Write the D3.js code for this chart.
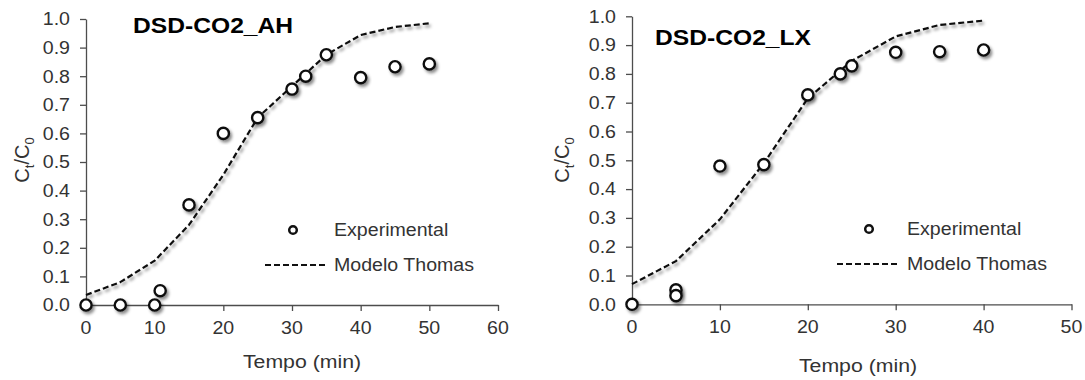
<!DOCTYPE html>
<html>
<head>
<meta charset="utf-8">
<script src="https://cdn.jsdelivr.net/npm/d3@7"></script>
<style>
  html, body { margin: 0; padding: 0; background: #fff; }
  svg { display: block; }
  text { font-family: "Liberation Sans", Arial, sans-serif; }
</style>
</head>
<body>
<svg id="chart" width="1085" height="380"></svg>
<script>
// Breakthrough curves: experimental points and Thomas model fit
const timeAH = [0, 5, 10, 10.8, 15, 20, 25, 30, 32, 35, 40, 45, 50];
const ctAH   = [0, 0, 0, 0.05, 0.35, 0.60, 0.655, 0.755, 0.80, 0.875, 0.795, 0.833, 0.843];
const modelTimeAH = [0, 5, 10, 15, 20, 25, 30, 35, 40, 45, 50];
const modelAH     = [0.035, 0.08, 0.155, 0.28, 0.455, 0.655, 0.765, 0.875, 0.944, 0.972, 0.985];

const timeLX = [0, 5, 5, 10, 15, 20, 23.7, 25, 30, 35, 40];
const ctLX   = [0, 0.05, 0.03, 0.48, 0.485, 0.727, 0.80, 0.828, 0.875, 0.877, 0.883];
const modelTimeLX = [0, 5, 10, 15, 20, 25, 30, 35, 40];
const modelLX     = [0.07, 0.15, 0.295, 0.49, 0.715, 0.845, 0.93, 0.97, 0.985];

const yTicks = [0, 0.1, 0.2, 0.3, 0.4, 0.5, 0.6, 0.7, 0.8, 0.9, 1.0];
const xTicksAH = [0, 10, 20, 30, 40, 50, 60];
const xTicksLX = [0, 10, 20, 30, 40, 50];

const legendLabels = ["Experimental", "Modelo Thomas"];
const xTitle = "Tempo (min)";

const svg = d3.select("#chart");
const SX = 1.12;          // slight horizontal stretch of the lettering
const textColor = "#333";
const axisColor = "#4d4d4d";

const defs = svg.append("defs");
const shadow = defs.append("filter").attr("id", "soft-shadow")
  .attr("x", "-50%").attr("y", "-50%").attr("width", "200%").attr("height", "200%");
shadow.append("feDropShadow")
  .attr("dx", 2).attr("dy", 2.5).attr("stdDeviation", 1.6)
  .attr("flood-color", "#000").attr("flood-opacity", 0.45);

function label(g, x, y, str, size, opts = {}) {
  return g.append("text")
    .attr("transform", `translate(${x},${y}) scale(${SX},1)`)
    .attr("font-size", size)
    .attr("font-weight", opts.bold ? "bold" : null)
    .attr("text-anchor", opts.anchor || "start")
    .attr("fill", opts.fill || textColor)
    .text(str);
}

function panel(cfg) {
  const g = svg.append("g");
  const x = d3.scaleLinear().domain(cfg.xDomain).range(cfg.xRange);
  const y = d3.scaleLinear().domain([0, 1]).range(cfg.yRange);

  // axes
  const yAxis = g.append("g").attr("transform", `translate(${cfg.xRange[0]},0)`)
    .call(d3.axisLeft(y).tickValues(yTicks).tickSize(6).tickSizeOuter(0).tickFormat(""));
  const xAxis = g.append("g").attr("transform", `translate(0,${cfg.yRange[0]})`)
    .call(d3.axisBottom(x).tickValues(cfg.xTicks).tickSize(6).tickSizeOuter(0).tickFormat(""));
  [yAxis, xAxis].forEach(a => {
    a.selectAll("path, line").attr("stroke", axisColor).attr("stroke-width", 1.3);
  });

  // tick labels
  yTicks.forEach(v => label(g, cfg.xRange[0] - 16, y(v) + 6.3, d3.format(".1f")(v), 17.5, { anchor: "end" }));
  cfg.xTicks.forEach(v => label(g, x(v), cfg.yRange[0] + 29, String(v), 17.5, { anchor: "middle" }));

  // axis titles
  label(g, cfg.xTitleX, cfg.xTitleY, xTitle, 19, { anchor: "middle" });
  const yl = g.append("text")
    .attr("transform", `translate(${cfg.yTitleX},${cfg.yTitleY}) rotate(-90)`)
    .attr("font-size", 20).attr("text-anchor", "middle").attr("fill", textColor);
  yl.append("tspan").text("C");
  yl.append("tspan").attr("font-size", 13).attr("dy", 5).text("t");
  yl.append("tspan").attr("dy", -5).text("/C");
  yl.append("tspan").attr("font-size", 13).attr("dy", 5).text("0");

  // panel title
  label(g, cfg.titleX, cfg.titleY, cfg.title, 22, { bold: true, fill: "#000" });

  // Thomas model
  const line = d3.line().x(d => x(d[0])).y(d => y(d[1]));
  g.append("path")
    .datum(cfg.modelTime.map((t, i) => [t, cfg.model[i]]))
    .attr("d", line)
    .attr("fill", "none").attr("stroke", "#111").attr("stroke-width", 2.2)
    .attr("stroke-dasharray", "6,3")
    .attr("filter", "url(#soft-shadow)");

  // experimental points
  g.append("g").selectAll("circle")
    .data(cfg.time.map((t, i) => [t, cfg.ct[i]]))
    .join("circle")
    .attr("cx", d => x(d[0])).attr("cy", d => y(d[1])).attr("r", 5.6)
    .attr("fill", "#fff").attr("stroke", "#111").attr("stroke-width", 2.4)
    .attr("filter", "url(#soft-shadow)");

  // legend
  const L = cfg.legend;
  g.append("circle").attr("cx", L.markerX).attr("cy", L.row1 - 6).attr("r", 3.8)
    .attr("fill", "#fff").attr("stroke", "#111").attr("stroke-width", 2.5);
  g.append("line").attr("x1", L.lineX0).attr("x2", L.lineX1)
    .attr("y1", L.row2 - 6).attr("y2", L.row2 - 6)
    .attr("stroke", "#111").attr("stroke-width", 2.2).attr("stroke-dasharray", "6,3");
  label(g, L.textX, L.row1, legendLabels[0], 17.5);
  label(g, L.textX, L.row2, legendLabels[1], 17.5);
}

panel({
  title: "DSD-CO2_AH", titleX: 133, titleY: 33,
  xDomain: [0, 60], xRange: [86, 498], yRange: [305, 19], xTicks: xTicksAH,
  xTitleX: 302, xTitleY: 368, yTitleX: 29, yTitleY: 160,
  time: timeAH, ct: ctAH, modelTime: modelTimeAH, model: modelAH,
  legend: { markerX: 293, lineX0: 265, lineX1: 327, textX: 334, row1: 236, row2: 271 }
});

panel({
  title: "DSD-CO2_LX", titleX: 655, titleY: 45,
  xDomain: [0, 50], xRange: [632, 1071.5], yRange: [304.3, 16.3], xTicks: xTicksLX,
  xTitleX: 858, xTitleY: 372, yTitleX: 569, yTitleY: 160,
  time: timeLX, ct: ctLX, modelTime: modelTimeLX, model: modelLX,
  legend: { markerX: 869, lineX0: 837, lineX1: 900, textX: 907, row1: 235, row2: 270 }
});
</script>
</body>
</html>
